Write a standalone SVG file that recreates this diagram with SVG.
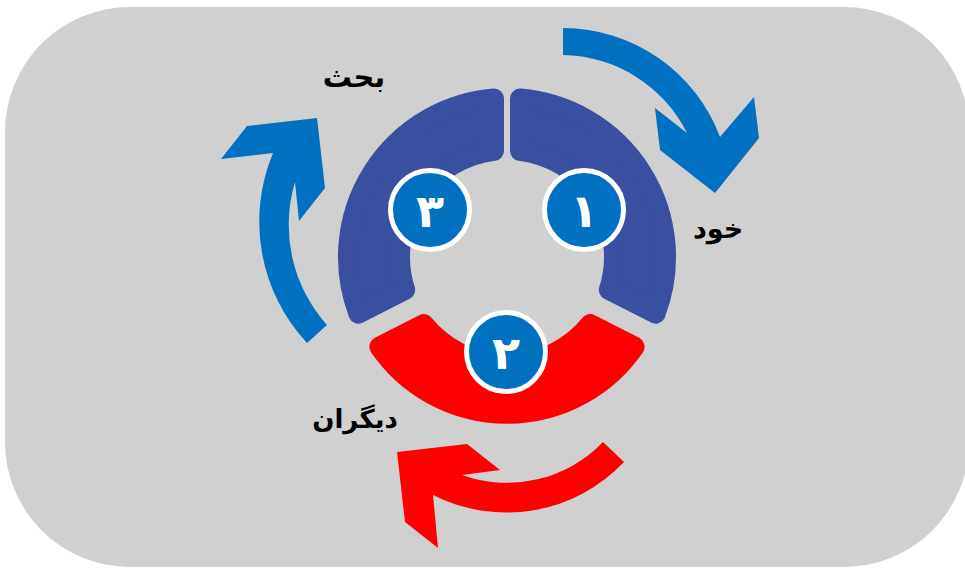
<svg xmlns="http://www.w3.org/2000/svg" width="965" height="573" viewBox="0 0 965 573">
<defs>
<style>
.seg{stroke-width:20;stroke-linejoin:round}
.blue{fill:#3A4FA0;stroke:#3A4FA0}
.red{fill:#FF0000;stroke:#FF0000}
.arrow-blue{fill:#0070C0}
.arrow-red{fill:#FF0000}
.badge{fill:#0070C0;stroke:#FFFFFF;stroke-width:5}
.num{fill:#FFFFFF;font-family:"DejaVu Sans","Noto Sans",sans-serif;font-weight:bold;font-size:46px;text-anchor:middle}
.lbl{fill:#000000;font-family:"DejaVu Sans","Noto Sans",sans-serif;font-weight:bold;font-size:26px;text-anchor:middle}
</style>
</defs>
<rect x="5" y="7" width="964" height="560" rx="125" ry="125" fill="#D0D0D0"/>
<g id="connectors">
<path class="arrow-blue" d="M 563 28 A 168 168 0 0 1 720 137 L 754 97 L 759 138 L 715 193 L 660 150 L 655 108 L 687 133 A 141 141 0 0 0 563 55 Z"/>
<path class="arrow-blue" d="M 307 343 A 178 178 0 0 1 273 153 L 221 159 L 247 126 L 317 118 L 325 188 L 299 221 L 295 182 A 150 150 0 0 0 327 325 Z"/>
<path class="arrow-red" d="M 603 442 A 133 133 0 0 1 462 475 L 500 470 L 467 444 L 397 452 L 405 522 L 438 548 L 433 495 A 162 162 0 0 0 624 462 Z"/>
</g>
<g id="node-1">
<path class="seg blue" d="M 655.59 313.62 A 159 159 0 0 0 520 98.53 L 520 150.79 A 107 107 0 0 1 608.84 289.82 Z"/>
<circle class="badge" cx="584" cy="210" r="39.5"/>
<text class="num" x="584" y="227">۱</text>
</g>
<g id="node-3">
<path class="seg blue" d="M 494 98.53 A 159 159 0 0 0 358.41 313.62 L 405.16 289.82 A 107 107 0 0 1 494 150.79 Z"/>
<circle class="badge" cx="430" cy="210" r="39.5"/>
<text class="num" x="430" y="227">۳</text>
</g>
<g id="node-2">
<path class="seg red" d="M 379.4 346.7 A 155 155 0 0 0 634.6 346.7 L 590.3 324.1 A 107 107 0 0 1 423.7 324.1 Z"/>
<circle class="badge" cx="506" cy="352" r="39.5"/>
<text class="num" x="506" y="369">۲</text>
</g>
<g id="label-bahs"><text class="lbl" x="354" y="87" style="font-size:29px">بحث</text></g>
<g id="label-khod"><text class="lbl" x="718" y="238" style="font-size:27px">خود</text></g>
<g id="label-digaran"><text class="lbl" x="355" y="428">دیگران</text></g>
</svg>
